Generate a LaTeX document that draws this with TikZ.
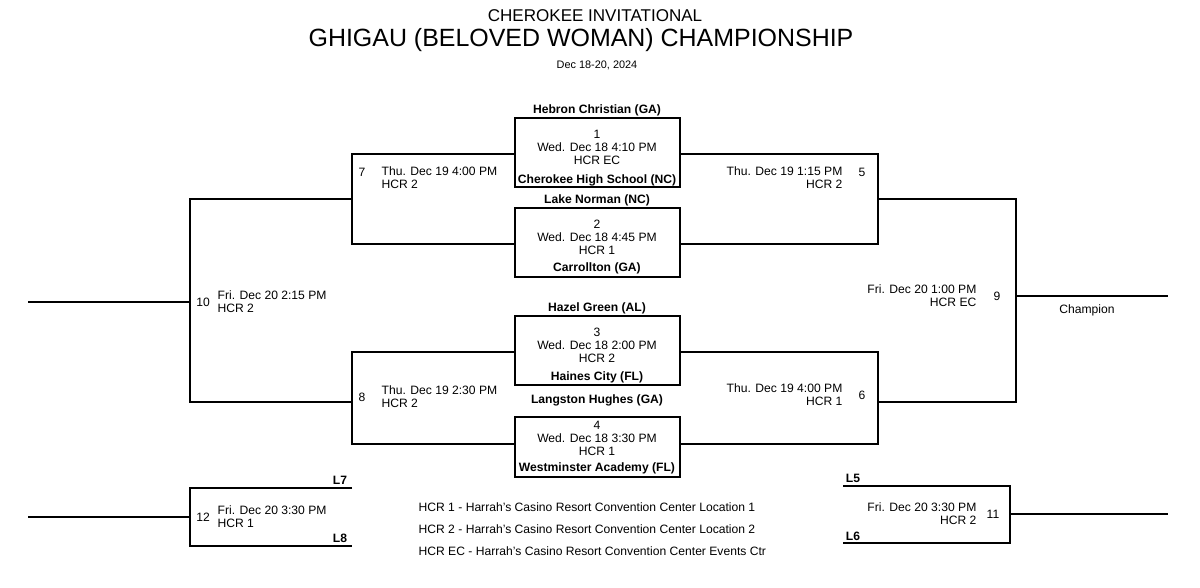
\documentclass[tikz,border=0pt]{standalone}
\usepackage{fontspec}
\setmainfont{Liberation Sans}
\begin{document}
\begin{tikzpicture}[x=0.02cm,y=-0.02cm,line width=0.7pt,
  t/.style={inner sep=0pt,font=\fontsize{6.9}{7.4}\selectfont},
  tb/.style={t,font=\fontsize{6.9}{7.4}\selectfont\bfseries},
  tl/.style={t,anchor=west,align=left},
  tr/.style={t,anchor=east,align=right}]
\useasboundingbox (0,0) rectangle (1200,588);
\node[t,font=\fontsize{9.7}{11}\selectfont] (h1) at (595,16) {CHEROKEE INVITATIONAL};
\node[t,font=\fontsize{14.2}{16}\selectfont] (h2) at (581,40) {GHIGAU (BELOVED WOMAN) CHAMPIONSHIP};
\node[t,font=\fontsize{6.2}{7}\selectfont] (h3) at (597,65) {Dec 18-20, 2024};
% boxes
\draw (515,118) rectangle (680,187);
\draw (515,208) rectangle (680,277);
\draw (515,316) rectangle (680,385);
\draw (515,417) rectangle (680,477);
\node[tb] (a1) at (597,110) {Hebron Christian (GA)};
\node[t,align=center] (g1) at (597,147) {1\\Wed. Dec 18 4:10 PM\\HCR EC};
\node[tb] (b1) at (597,180) {Cherokee High School (NC)};
\node[tb] (a2) at (597,200) {Lake Norman (NC)};
\node[t,align=center] (g2) at (597,237) {2\\Wed. Dec 18 4:45 PM\\HCR 1};
\node[tb] (b2) at (597,268) {Carrollton (GA)};
\node[tb] (a3) at (597,308) {Hazel Green (AL)};
\node[t,align=center] (g3) at (597,345) {3\\Wed. Dec 18 2:00 PM\\HCR 2};
\node[tb] (b3) at (597,377) {Haines City (FL)};
\node[tb] (a4) at (597,400) {Langston Hughes (GA)};
\node[t,align=center] (g4) at (597,438) {4\\Wed. Dec 18 3:30 PM\\HCR 1};
\node[tb] (b4) at (597,468) {Westminster Academy (FL)};
% left brackets
\draw (515,154) -- (352,154) -- (352,244) -- (515,244);
\draw (515,352) -- (352,352) -- (352,444) -- (515,444);
\draw (352,199) -- (190,199) -- (190,402) -- (352,402);
\draw (28,302) -- (190,302);
\node[t] (n7) at (362,172) {7};
\node[tl] (l7) at (381,178) {Thu. Dec 19 4:00 PM\\HCR 2};
\node[t] (n8) at (362,397) {8};
\node[tl] (l8) at (381,397) {Thu. Dec 19 2:30 PM\\HCR 2};
\node[t] (n10) at (203,302) {10};
\node[tl] (l10) at (217,302) {Fri. Dec 20 2:15 PM\\HCR 2};
% right brackets
\draw (680,154) -- (878,154) -- (878,244) -- (680,244);
\draw (680,352) -- (878,352) -- (878,444) -- (680,444);
\draw (878,199) -- (1016,199) -- (1016,402) -- (878,402);
\draw (1016,296) -- (1168,296);
\node[t] (n5) at (862,172) {5};
\node[tr] (l5) at (843,178) {Thu. Dec 19 1:15 PM\\HCR 2};
\node[t] (n6) at (862,395) {6};
\node[tr] (l6) at (843,395) {Thu. Dec 19 4:00 PM\\HCR 1};
\node[t] (n9) at (997,296) {9};
\node[tr] (l9) at (977,296) {Fri. Dec 20 1:00 PM\\HCR EC};
\node[t] (ch) at (1087,310) {Champion};
% consolation
\draw (352,488) -- (190,488) -- (190,546) -- (352,546);
\draw (28,517) -- (190,517);
\node[tb] (L7) at (340,480) {L7};
\node[tb] (L8) at (340,538) {L8};
\node[t] (n12) at (203,517) {12};
\node[tl] (l12) at (217,517) {Fri. Dec 20 3:30 PM\\HCR 1};
\draw (843,486) -- (1010,486) -- (1010,543) -- (843,543);
\draw (1010,514) -- (1168,514);
\node[tb] (L5) at (853,478) {L5};
\node[tb] (L6) at (853,536) {L6};
\node[t] (n11) at (993,514) {11};
\node[tr] (l11) at (977,514) {Fri. Dec 20 3:30 PM\\HCR 2};
% legend
\node[t,anchor=west] (k1) at (418,507) {HCR 1 - Harrah's Casino Resort Convention Center Location 1};
\node[t,anchor=west] (k2) at (418,529) {HCR 2 - Harrah's Casino Resort Convention Center Location 2};
\node[t,anchor=west] (k3) at (418,551) {HCR EC - Harrah's Casino Resort Convention Center Events Ctr};
\end{tikzpicture}
\end{document}
